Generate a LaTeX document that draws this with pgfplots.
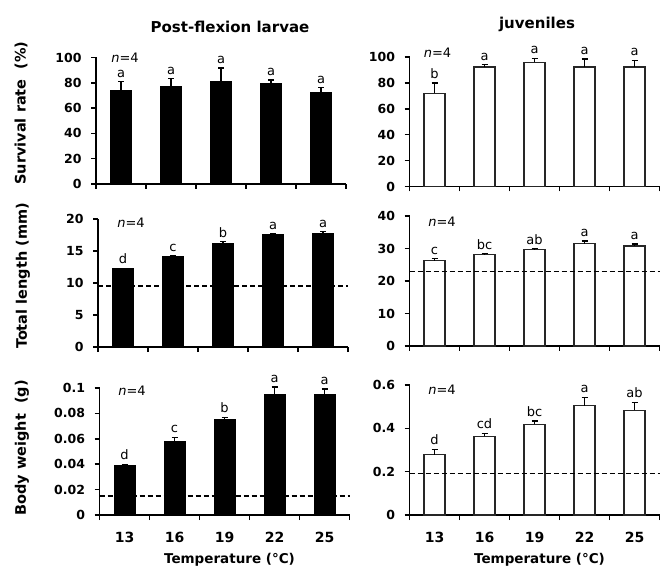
\documentclass[border=0pt]{standalone}
\usepackage{fontspec}
\setmainfont{DejaVu Sans}
\usepackage{pgfplots}
\usepackage{pgfplotstable}
\pgfplotsset{compat=1.18}

\pgfplotstableread{
x y e lab
0 74.2 6.6 a
1 77.1 6.3 a
2 81.3 10.3 a
3 79.5 2.6 a
4 72.1 4.0 a
}\SRlarv
\pgfplotstableread{
x y e lab
0 71.9 8.0 b
1 92.3 1.8 a
2 95.9 3.1 a
3 92.3 6.2 a
4 92.3 5.1 a
}\SRjuv
\pgfplotstableread{
x y e lab
0 12.2 0.1 d
1 14.1 0.1 c
2 16.2 0.25 b
3 17.6 0.12 a
4 17.8 0.22 a
}\TLlarv
\pgfplotstableread{
x y e lab
0 26.3 0.6 c
1 28.1 0.3 bc
2 29.6 0.3 ab
3 31.5 0.8 a
4 30.8 0.6 a
}\TLjuv
\pgfplotstableread{
x y e lab
0 0.0388 0.0011 d
1 0.0577 0.0035 c
2 0.0751 0.0018 b
3 0.0950 0.0058 a
4 0.0945 0.0047 a
}\BWlarv
\pgfplotstableread{
x y e lab
0 0.278 0.025 d
1 0.363 0.014 cd
2 0.418 0.016 bc
3 0.505 0.038 a
4 0.483 0.037 ab
}\BWjuv

\pgfplotsset{
  panel/.style={
    scale only axis, width=250pt,
    axis lines*=left,
    axis line style={line width=1.5pt, black},
    xmin=-0.5, xmax=4.5, ymin=0,
    xtick={-0.5,0.5,1.5,2.5,3.5,4.5}, xticklabels={},
    tick align=outside, major tick length=5pt,
    every tick/.style={line width=1.5pt, black},
    yticklabel style={font=\fontsize{12.5}{14}\selectfont\bfseries, xshift=-6pt},
    clip=false,
  },
  bottom/.style={
    extra x ticks={0,1,2,3,4},
    extra x tick labels={13,16,19,22,25},
    extra x tick style={major tick length=0pt, tick style={draw=none},
      xticklabel style={font=\fontsize{14}{16}\selectfont\bfseries, anchor=base, yshift=-27pt}},
    xlabel={Temperature (°C)},
    xlabel style={font=\fontsize{13.5}{15}\selectfont\bfseries, at={(axis description cs:0.5,0)}, anchor=base, yshift=-48.5pt, xshift=5pt},
  },
  blackbar/.style={ybar, bar width=21pt, fill=black, draw=black, line width=1pt,
     error bars/y dir=plus, error bars/y explicit,
     error bars/error bar style={line width=1.3pt, black},
     error bars/error mark options={rotate=90, mark size=3pt, line width=1.3pt, black}},
  whitebar/.style={ybar, bar width=21pt, fill=white, draw=black!85, line width=1.3pt,
     error bars/y dir=plus, error bars/y explicit,
     error bars/error bar style={line width=1.3pt, black},
     error bars/error mark options={rotate=90, mark size=3pt, line width=1.3pt, black}},
  letters/.style={draw=none, mark=none, nodes near coords, point meta=explicit symbolic,
     every node near coord/.style={font=\fontsize{13}{15}\selectfont, anchor=south, inner sep=0pt, yshift=4pt}},
  thr/.style={black, line width=1.7pt, dash pattern=on 5pt off 3pt},
}

\begin{document}
\begin{tikzpicture}
\useasboundingbox (0,0) rectangle (661pt,568pt);

% Row 1
\begin{axis}[panel, at={(96pt,384pt)}, anchor=south west, height=126.5pt,
  ymax=100, ytick={0,20,40,60,80,100}, yticklabels={0,20,40,60,80,100}]
\addplot[blackbar] table[x=x, y=y, y error=e] {\SRlarv};
\addplot[letters] table[x=x, y expr=\thisrow{y}+\thisrow{e}, meta=lab] {\SRlarv};
\node[font=\fontsize{13}{15}\selectfont] at (axis cs:0.08,100) {\textit{n}=4};
\end{axis}
\begin{axis}[panel, at={(409.5pt,381.5pt)}, anchor=south west, height=129.5pt,
  ymax=100, ytick={0,20,40,60,80,100}, yticklabels={0,20,40,60,80,100}]
\addplot[whitebar] table[x=x, y=y, y error=e] {\SRjuv};
\addplot[letters] table[x=x, y expr=\thisrow{y}+\thisrow{e}, meta=lab] {\SRjuv};
\node[font=\fontsize{13}{15}\selectfont] at (axis cs:0.06,103) {\textit{n}=4};
\end{axis}

% Row 2
\begin{axis}[panel, at={(98pt,221pt)}, anchor=south west, height=128pt,
  ymax=20, ytick={0,5,10,15,20}, yticklabels={0,5,10,15,20}]
\addplot[blackbar] table[x=x, y=y, y error=e] {\TLlarv};
\addplot[thr] coordinates {(-0.5,9.5) (4.5,9.5)};
\addplot[letters] table[x=x, y expr=\thisrow{y}+\thisrow{e}, meta=lab] {\TLlarv};
\node[font=\fontsize{13}{15}\selectfont] at (axis cs:0.16,19.4) {\textit{n}=4};
\end{axis}
\begin{axis}[panel, at={(409.5pt,222pt)}, anchor=south west, height=130pt,
  ymax=40, ytick={0,10,20,30,40}, yticklabels={0,10,20,30,40}]
\addplot[whitebar] table[x=x, y=y, y error=e] {\TLjuv};
\addplot[thr] coordinates {(-0.5,22.9) (4.5,22.9)};
\addplot[letters] table[x=x, y expr=\thisrow{y}+\thisrow{e}, meta=lab] {\TLjuv};
\node[font=\fontsize{13}{15}\selectfont] at (axis cs:0.15,38.2) {\textit{n}=4};
\end{axis}

% Row 3
\begin{axis}[panel, bottom, at={(99.5pt,53pt)}, anchor=south west, height=127pt,
  ymax=0.1, ytick={0,0.02,0.04,0.06,0.08,0.1}, yticklabels={0,0.02,0.04,0.06,0.08,0.1}]
\addplot[blackbar] table[x=x, y=y, y error=e] {\BWlarv};
\addplot[thr] coordinates {(-0.5,0.0152) (4.5,0.0152)};
\addplot[letters] table[x=x, y expr=\thisrow{y}+\thisrow{e}, meta=lab] {\BWlarv};
\node[font=\fontsize{13}{15}\selectfont] at (axis cs:0.15,0.0976) {\textit{n}=4};
\end{axis}
\begin{axis}[panel, bottom, at={(409.5pt,53pt)}, anchor=south west, height=130pt,
  ymax=0.6, ytick={0,0.2,0.4,0.6}, yticklabels={0,0.2,0.4,0.6}]
\addplot[whitebar] table[x=x, y=y, y error=e] {\BWjuv};
\addplot[thr] coordinates {(-0.5,0.192) (4.5,0.192)};
\addplot[letters] table[x=x, y expr=\thisrow{y}+\thisrow{e}, meta=lab] {\BWjuv};
\node[font=\fontsize{13}{15}\selectfont] at (axis cs:0.15,0.577) {\textit{n}=4};
\end{axis}

% Titles and y labels
\node[font=\fontsize{15}{17}\selectfont\bfseries, anchor=base] at (230pt,535pt) {Post-flexion larvae};
\node[font=\fontsize{15}{17}\selectfont\bfseries, anchor=base] at (537pt,539pt) {juveniles};
\node[rotate=90, font=\fontsize{14.5}{16}\selectfont\bfseries] at (21pt,455pt) {Survival rate~~(\%)};
\node[rotate=90, font=\fontsize{14.5}{16}\selectfont\bfseries] at (23pt,292pt) {Total length (mm)};
\node[rotate=90, font=\fontsize{14.5}{16}\selectfont\bfseries] at (22pt,120pt) {Body weight~~(g)};
\end{tikzpicture}
\end{document}
